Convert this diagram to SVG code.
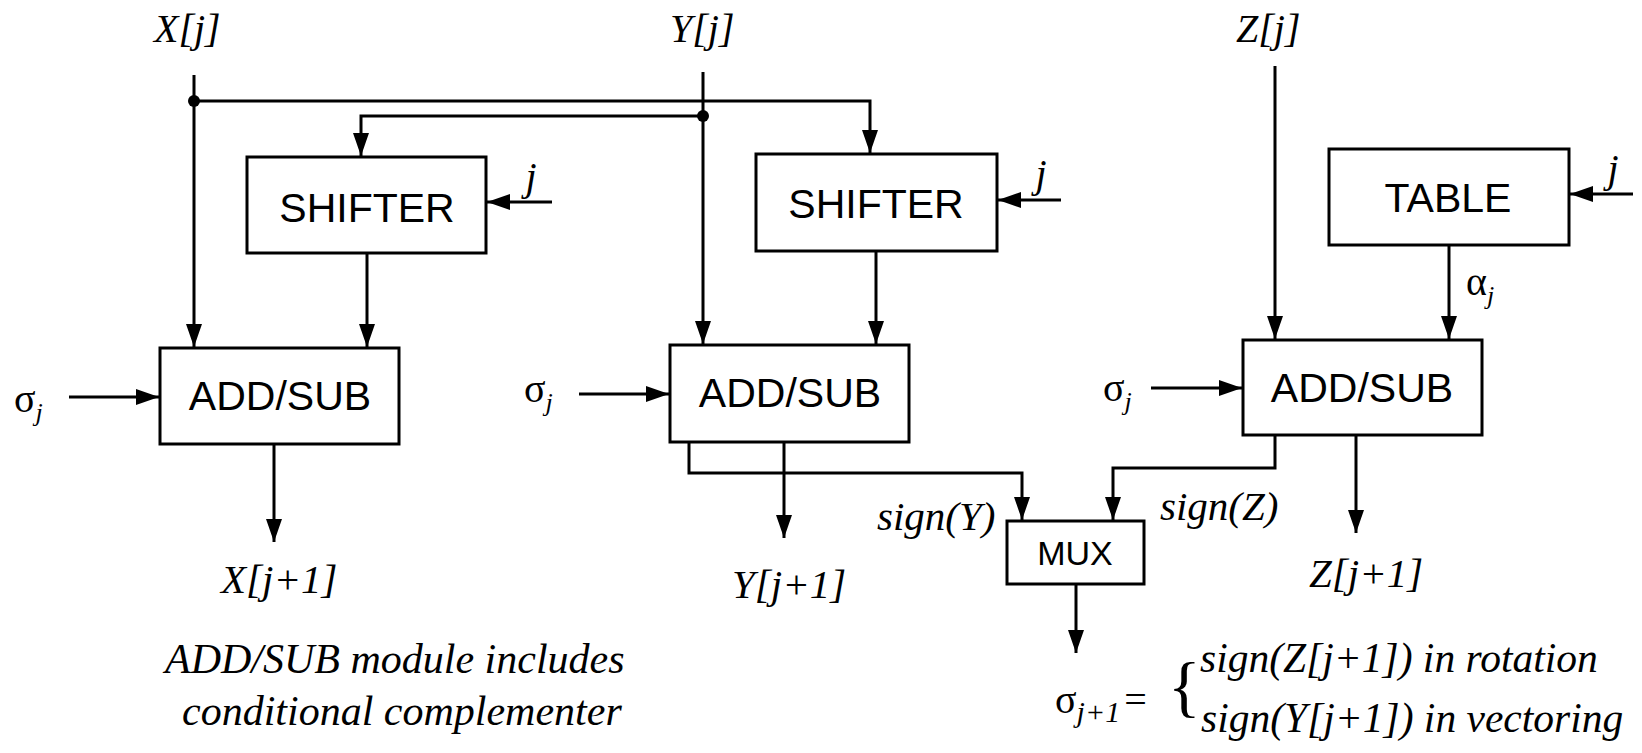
<svg xmlns="http://www.w3.org/2000/svg" width="1642" height="753" viewBox="0 0 1642 753">
<style>
.box{fill:#fff;stroke:#000;stroke-width:3}
.ar{fill:none;stroke:#000;stroke-width:3;marker-end:url(#ah)}
</style>
<defs>
<marker id="ah" markerUnits="userSpaceOnUse" markerWidth="24" markerHeight="16" refX="23" refY="8" orient="auto">
<path d="M0,0 L23,8 L0,16 z" fill="#000"/>
</marker>
</defs>
<rect width="1642" height="753" fill="#fff"/>
<g id="connectors">
<path class="ar" d="M194,75 V347"/>
<path class="ar" d="M194,101 H870 V153"/>
<path class="ar" d="M703,72 V344"/>
<path class="ar" d="M703,116 H361 V156"/>
<path class="ar" d="M367,253 V347"/>
<path class="ar" d="M876,251 V344"/>
<path class="ar" d="M1275,66 V339"/>
<path class="ar" d="M1449,245 V339"/>
<path class="ar" d="M552,202 H487"/>
<path class="ar" d="M1061,200 H998"/>
<path class="ar" d="M1633,194 H1570"/>
<path class="ar" d="M69,397 H159"/>
<path class="ar" d="M579,394 H669"/>
<path class="ar" d="M1151,388 H1242"/>
<path class="ar" d="M274,444 V542"/>
<path class="ar" d="M784,442 V538"/>
<path class="ar" d="M1356,435 V533"/>
<path class="ar" d="M689,442 V473 H1022 V520"/>
<path class="ar" d="M1275,435 V468 H1113 V520"/>
<path class="ar" d="M1076,584 V653"/>
<circle cx="194" cy="101" r="6" fill="#000"/>
<circle cx="703" cy="116" r="6" fill="#000"/>
</g>
<g id="shifter1"><rect class="box" x="247" y="157" width="239" height="96"/><text x="367" y="222" style="font-family:'Liberation Sans',sans-serif;font-size:41px" text-anchor="middle">SHIFTER</text></g>
<g id="shifter2"><rect class="box" x="756" y="154" width="241" height="97"/><text x="876" y="218" style="font-family:'Liberation Sans',sans-serif;font-size:41px" text-anchor="middle">SHIFTER</text></g>
<g id="table"><rect class="box" x="1329" y="149" width="240" height="96"/><text x="1448" y="212" style="font-family:'Liberation Sans',sans-serif;font-size:41px" text-anchor="middle">TABLE</text></g>
<g id="addsub1"><rect class="box" x="160" y="348" width="239" height="96"/><text x="280" y="410" style="font-family:'Liberation Sans',sans-serif;font-size:41px" text-anchor="middle">ADD/SUB</text></g>
<g id="addsub2"><rect class="box" x="670" y="345" width="239" height="97"/><text x="790" y="407" style="font-family:'Liberation Sans',sans-serif;font-size:41px" text-anchor="middle">ADD/SUB</text></g>
<g id="addsub3"><rect class="box" x="1243" y="340" width="239" height="95"/><text x="1362" y="402" style="font-family:'Liberation Sans',sans-serif;font-size:41px" text-anchor="middle">ADD/SUB</text></g>
<g id="mux"><rect class="box" x="1007" y="521" width="137" height="63"/><text x="1075" y="565" style="font-family:'Liberation Sans',sans-serif;font-size:34px" text-anchor="middle">MUX</text></g>
<g id="labels">
<text x="154" y="42" style="font-family:'Liberation Serif',serif;font-style:italic;font-size:40px">X[j]</text>
<text x="670" y="42" style="font-family:'Liberation Serif',serif;font-style:italic;font-size:40px">Y[j]</text>
<text x="1236" y="42" style="font-family:'Liberation Serif',serif;font-style:italic;font-size:40px">Z[j]</text>
<text x="531" y="190" style="font-family:'Liberation Serif',serif;font-style:italic;font-size:40px" text-anchor="middle">j</text>
<text x="1041" y="187" style="font-family:'Liberation Serif',serif;font-style:italic;font-size:40px" text-anchor="middle">j</text>
<text x="1613" y="182" style="font-family:'Liberation Serif',serif;font-style:italic;font-size:40px" text-anchor="middle">j</text>
<text x="221" y="593" style="font-family:'Liberation Serif',serif;font-style:italic;font-size:41px">X[j+1]</text>
<text x="732" y="598" style="font-family:'Liberation Serif',serif;font-style:italic;font-size:41px">Y[j+1]</text>
<text x="1309" y="587" style="font-family:'Liberation Serif',serif;font-style:italic;font-size:41px">Z[j+1]</text>
<text x="877" y="530" style="font-family:'Liberation Serif',serif;font-style:italic;font-size:41px">sign(Y)</text>
<text x="1160" y="520" style="font-family:'Liberation Serif',serif;font-style:italic;font-size:41px">sign(Z)</text>
<text x="165" y="673" style="font-family:'Liberation Serif',serif;font-style:italic;font-size:42px">ADD/SUB module includes</text>
<text x="182" y="725" style="font-family:'Liberation Serif',serif;font-style:italic;font-size:42px">conditional complementer</text>
<text x="1200" y="672" style="font-family:'Liberation Serif',serif;font-style:italic;font-size:41.5px">sign(Z[j+1]) in rotation</text>
<text x="1201" y="732" style="font-family:'Liberation Serif',serif;font-style:italic;font-size:41.5px">sign(Y[j+1]) in vectoring</text>
<text x="1466" y="295" style="font-family:'Liberation Serif',serif;font-size:40px">α<tspan style="font-style:italic;font-size:26px" dy="9">j</tspan></text>
<text x="14" y="412" style="font-family:'Liberation Serif',serif;font-size:40px">σ<tspan style="font-style:italic;font-size:26px" dy="9">j</tspan></text>
<text x="524" y="402" style="font-family:'Liberation Serif',serif;font-size:40px">σ<tspan style="font-style:italic;font-size:26px" dy="9">j</tspan></text>
<text x="1103" y="401" style="font-family:'Liberation Serif',serif;font-size:40px">σ<tspan style="font-style:italic;font-size:26px" dy="9">j</tspan></text>
<text x="1055" y="713" style="font-family:'Liberation Serif',serif;font-size:40px">σ<tspan style="font-style:italic;font-size:30px" dy="9">j+1</tspan><tspan dy="-9" dx="4">=</tspan></text>
<text x="1168" y="709" style="font-family:'Liberation Serif',serif;font-size:68px">{</text>
</g>
</svg>
